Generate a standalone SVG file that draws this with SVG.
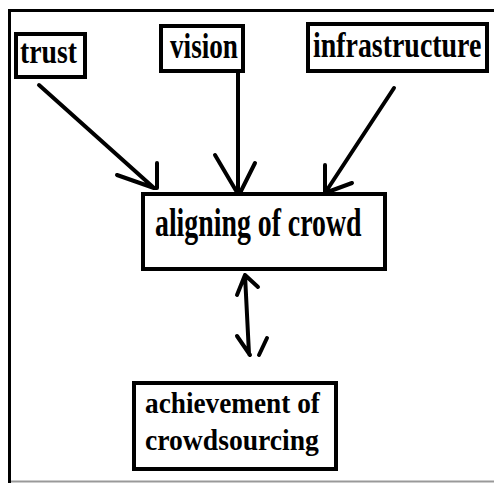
<svg xmlns="http://www.w3.org/2000/svg" width="494" height="483" viewBox="0 0 494 483">
<style>
.box{fill:#fff;stroke:#000;stroke-width:4}
.t{font-family:"Liberation Serif","Times New Roman",serif;font-weight:bold;fill:#000}
.c{fill:none;stroke:#000;stroke-width:4;stroke-linecap:round;stroke-linejoin:round}
</style>
<rect width="494" height="483" fill="#fff"/>
<g id="frame">
<line x1="8" y1="10.5" x2="494" y2="10.5" stroke="#000" stroke-width="3"/>
<line x1="9.5" y1="9" x2="9.5" y2="483" stroke="#000" stroke-width="3"/>
<line x1="11" y1="481.5" x2="494" y2="481.5" stroke="#999" stroke-width="2"/>
</g>
<g id="connectors">
<path class="c" d="M39,85 L154,188 M157,163 L157,188 L154,188 M117,175 L154,188"/>
<path class="c" d="M238,73 L238,194 M215,155 L238,194 M255,163 L240,193"/>
<path class="c" d="M394,88 L325,193 M325,165 L325,193 M352,183 L325,193"/>
<path class="c" d="M245,275 L249,354 M237,295 L245,275 L258,287 M237,336 L250,355 M267,338 L259,355"/>
</g>
<g id="trust">
<rect class="box" x="16" y="34" width="69" height="43"/>
<text class="t" transform="translate(20,63) scale(0.84,1)" font-size="33">trust</text>
</g>
<g id="vision">
<rect class="box" x="161" y="26" width="82" height="45"/>
<text class="t" transform="translate(170,58) scale(0.755,1)" font-size="36">vision</text>
</g>
<g id="infrastructure">
<rect class="box" x="308" y="24" width="179" height="47"/>
<text class="t" transform="translate(313,57) scale(0.775,1)" font-size="36">infrastructure</text>
</g>
<g id="aligning">
<rect class="box" x="143" y="194" width="242" height="75"/>
<text class="t" transform="translate(155,236) scale(0.713,1)" font-size="39">aligning of crowd</text>
</g>
<g id="achievement">
<rect class="box" x="134" y="383" width="202" height="86"/>
<text class="t" transform="translate(145,413) scale(0.909,1)" font-size="30">achievement of</text>
<text class="t" transform="translate(145,450) scale(0.921,1)" font-size="30">crowdsourcing</text>
</g>
</svg>
